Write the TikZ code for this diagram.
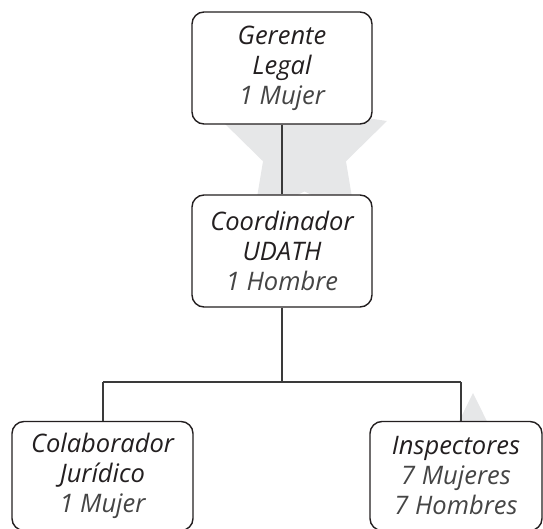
\documentclass[tikz,border=0pt]{standalone}
\usepackage{fontspec}
\setmainfont{Open Sans}
\definecolor{starc}{HTML}{E6E7E8}
\definecolor{boxc}{HTML}{231F20}
\definecolor{linec}{HTML}{3A3A3A}
\definecolor{txtc}{HTML}{231F20}
\definecolor{cntc}{HTML}{454545}
\newcommand\bgstar[4]{%
  \begin{scope}[shift={(#1,#2)}]
  \fill[starc] (90:#3pt) -- (54:#4pt) -- (18:#3pt) -- (-18:#4pt) -- (-54:#3pt) -- (-90:#4pt) -- (-126:#3pt) -- (-162:#4pt) -- (162:#3pt) -- (126:#4pt) -- cycle;
  \end{scope}}
\newcommand\cnt[1]{{\color{cntc}#1}}
\tikzset{
  orgbox/.style={draw=boxc, line width=1.4pt, rounded corners=12pt, fill=white,
    align=center, inner sep=0pt, text=txtc,
    font=\fontsize{25.5}{30}\selectfont\itshape},
  conn/.style={draw=linec, line width=1.2pt}
}
\begin{document}
\begin{tikzpicture}[x=1pt,y=-1pt]
\useasboundingbox (0,0) rectangle (543,529);
\bgstar{304.5}{147.8}{86.7}{43.6}
\bgstar{473}{458}{65}{32.5}
\node[orgbox, minimum width=180pt, minimum height=112pt] (ger) at (282,68) {Gerente\\Legal\\\cnt{1 Mujer}};
\node[orgbox, minimum width=180pt, minimum height=112pt] (coo) at (282,251) {Coordinador\\UDATH\\\cnt{1 Hombre}};
\coordinate (jl) at (103,382);
\coordinate (jr) at (461,382);
\node[orgbox, minimum width=181pt, minimum height=109pt] (col) at (102.5,476) {Colaborador\\Jurídico\\\cnt{1 Mujer}};
\node[orgbox, minimum width=172pt, minimum height=109pt] (ins) at (456,476) {Inspectores\\\cnt{7 Mujeres}\\\cnt{7 Hombres}};
\draw[conn] (ger) -- (coo);
\draw[conn] (coo.south) -- (coo.south |- jl);
\draw[conn] (jl) -- (jr);
\draw[conn] (jl) -- (jl |- col.north);
\draw[conn] (jr) -- (jr |- ins.north);
\end{tikzpicture}
\end{document}
